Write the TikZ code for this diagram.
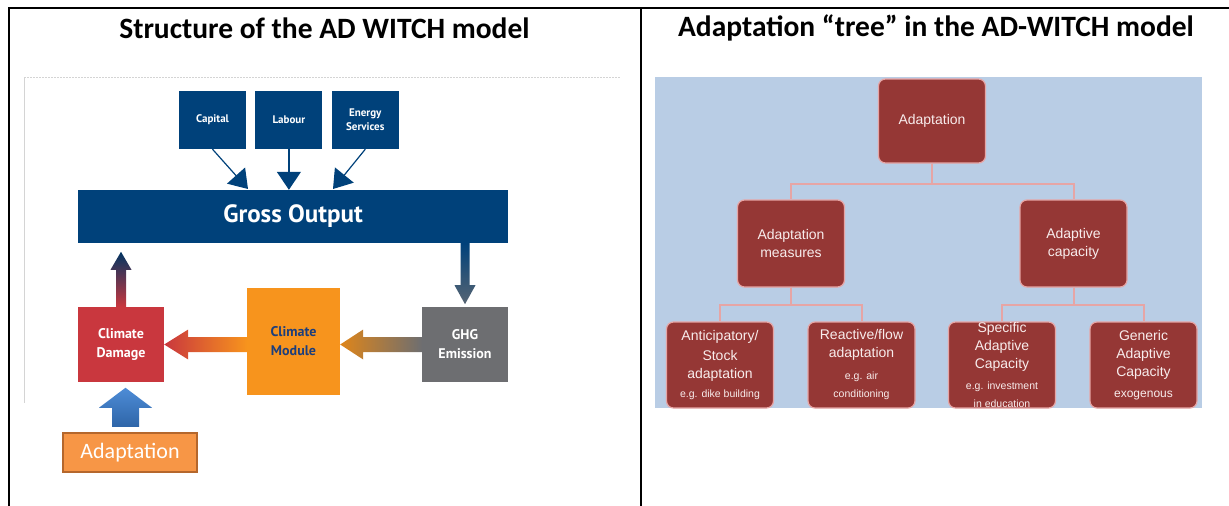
\documentclass[tikz,border=0pt]{standalone}
\usepackage{fontspec}
\newfontfamily\ptsans{PT Sans}
\newfontfamily\carlito{Carlito}
\newfontfamily\libsans{Liberation Sans}
\usetikzlibrary{arrows.meta, positioning}

\definecolor{goblue}{HTML}{00417A}
\definecolor{dmgred}{HTML}{C9373E}
\definecolor{modorange}{HTML}{F7941D}
\definecolor{modtext}{HTML}{1C3E7C}
\definecolor{ghggray}{HTML}{6D6E71}
\definecolor{adaptorange}{HTML}{F79646}
\definecolor{adaptedge}{HTML}{B5672C}
\definecolor{adaptblue}{HTML}{3A7FD2}
\definecolor{treebg}{HTML}{B9CDE5}
\definecolor{treered}{HTML}{953735}
\definecolor{treeedge}{HTML}{E6A5A5}
\definecolor{treetext}{HTML}{F8ECEC}
\definecolor{framegray}{HTML}{D4D4D4}

\newcommand{\treefont}{\libsans\fontsize{14}{18}\selectfont}
\newcommand{\treesmall}{\libsans\fontsize{10.5}{15}\selectfont}

\begin{document}
\begin{tikzpicture}[x=1pt, y=-1pt,
    title/.style={font=\carlito\bfseries\fontsize{29.5}{33}\selectfont, inner sep=0pt},
    inbox/.style={fill=goblue, text=white, font=\ptsans\bfseries\fontsize{11}{14}\selectfont, align=center, minimum width=67pt, minimum height=58pt, inner sep=0pt},
    block/.style={text=white, font=\ptsans\bfseries\fontsize{14}{19}\selectfont, align=center, minimum width=86pt, minimum height=75pt, inner sep=0pt},
    feed/.style={goblue, line width=1.2pt, -{Triangle[width=24pt,length=18pt]}},
    treebox/.style={fill=treered, draw=treeedge, line width=1.2pt, rounded corners=7pt, text=treetext, font=\treefont, align=center, minimum width=107pt, inner sep=0pt},
    branch/.style={treeedge, line width=2pt}]
    \useasboundingbox (0,0) rectangle (1229,506);

    % Table frame and headings
    \draw[line width=2pt] (8.5,506) -- (8.5,7.5) -- (1229,7.5);
    \draw[line width=2pt] (641,7.5) -- (641,506);
    \node[title] (lefttitle) at (324.5,28) {Structure of the AD WITCH model};
    \node[title] (righttitle) at (936,28) {Adaptation “tree” in the AD-WITCH model};

    % Left: model structure
    \draw[framegray, dash pattern=on 2pt off 1pt] (24,77) -- (620,77);
    \draw[framegray] (24,77) -- (24,403);
    \node[inbox] (cap) at (212.5,120) {Capital};
    \node[inbox, right=9pt of cap] (lab) {Labour};
    \node[inbox, right=9pt of lab] (ener) {Energy\\Services};
    \node[inbox, minimum width=430pt, minimum height=53pt, font=\ptsans\bfseries\fontsize{25}{30}\selectfont] (go) at (293,216.5) {Gross Output};
    \node[block, fill=dmgred] (dmg) at (121,344.5) {Climate\\Damage};
    \node[block, fill=modorange, text=modtext, minimum width=93pt, minimum height=107pt] (mod) at (293.5,341.5) {Climate\\Module};
    \node[block, fill=ghggray] (ghg) at (465,344.5) {GHG\\Emission};
    \node[fill=adaptorange, draw=adaptedge, line width=2.5pt, text=white, font=\carlito\fontsize{22}{26}\selectfont, minimum width=134pt, minimum height=39pt, inner sep=0pt] (adapt) at (130,452.5) {Adaptation};

    % Inputs into output
    \coordinate (captip) at (248,189);
    \coordinate (enertip) at (333,189);
    \draw[feed] (cap.south) -- (captip);
    \draw[feed] (lab.south) -- (lab.south |- go.north);
    \draw[feed] (ener.south) -- (enertip);

    % Damage back to output
    \shade[bottom color=dmgred, top color=goblue!80!black] ([xshift=-5pt]dmg.north) -- ++(0,-37) -- ++(-5.5,0) -- ++(10.5,-18) -- ++(10.5,18) -- ++(-5.5,0) -- ++(0,37) -- cycle;
    % Output to emissions
    \coordinate (gotap) at (ghg.north |- go.south);
    \shade[top color=goblue, bottom color=ghggray!80!goblue] ([xshift=-4.5pt]gotap) -- ++(0,42) -- ++(-6,0) -- ++(10.5,19) -- ++(10.5,-19) -- ++(-6,0) -- ++(0,-42) -- cycle;
    % Module to damage, emissions to module
    \shade[left color=dmgred, right color=modorange] (dmg.east) -- ++(24,-15) -- ++(0,7.5) -- ++(59,0) -- ++(0,15) -- ++(-59,0) -- ++(0,7.5) -- cycle;
    \shade[left color=modorange!90!black, right color=ghggray] (mod.east |- ghg.west) -- ++(23,-15) -- ++(0,7.5) -- ++(59,0) -- ++(0,15) -- ++(-59,0) -- ++(0,7.5) -- cycle;
    % Adaptation into damage
    \coordinate (adbase) at ([xshift=-4.5pt,yshift=5pt]adapt.north);
    \shade[top color=adaptblue!90!white, bottom color=adaptblue!80!black] (adbase) ++(-13.5,0) -- ++(0,-19) -- ++(-13,0) -- ++(26.5,-20) -- ++(26.5,20) -- ++(-13,0) -- ++(0,19) -- cycle;

    % Right: adaptation tree
    \fill[treebg] (655,77) rectangle (1202,408);
    \node[treebox, minimum height=84pt] (root) at (932,121) {Adaptation};
    \node[treebox, minimum height=87pt] (meas) at (791,243.5) {Adaptation\\measures};
    \node[treebox, minimum height=87pt] (capy) at (1073.5,243.5) {Adaptive\\capacity};
    \node[treebox, minimum height=86pt] (stock) at (720,365) {Anticipatory/\\[2pt]Stock\\adaptation\\[1pt]\treesmall e.g. dike building};
    \node[treebox, minimum height=86pt] (flow) at (861.5,365) {Reactive/flow\\adaptation\\[4pt]\treesmall e.g. air\\\treesmall conditioning};
    \node[treebox, minimum height=86pt] (spec) at (1002,365) {Specific\\Adaptive\\Capacity\\[3pt]\treesmall e.g. investment\\\treesmall in education};
    \node[treebox, minimum height=86pt] (gen) at (1143.5,365) {Generic\\Adaptive\\Capacity\\[3pt]\libsans\fontsize{12}{15}\selectfont exogenous};
    \draw[branch] (root.south) -- ++(0,20) -| (meas.north);
    \draw[branch] (root.south) -- ++(0,20) -| (capy.north);
    \draw[branch] (meas.south) -- ++(0,17) -| (stock.north);
    \draw[branch] (meas.south) -- ++(0,17) -| (flow.north);
    \draw[branch] (capy.south) -- ++(0,17) -| (spec.north);
    \draw[branch] (capy.south) -- ++(0,17) -| (gen.north);
\end{tikzpicture}
\end{document}
